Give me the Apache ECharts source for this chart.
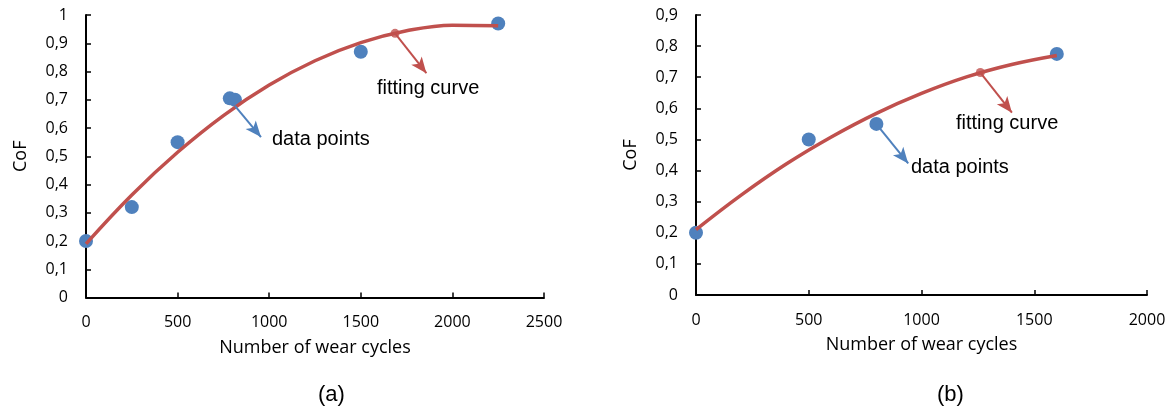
<!DOCTYPE html>
<html>
<head>
<meta charset="utf-8">
<script src="https://cdn.jsdelivr.net/npm/echarts@6/dist/echarts.min.js"></script>
<style>html,body{margin:0;padding:0;background:#fff;}#c{width:1171px;height:412px;}</style>
</head>
<body>
<div id="c"></div>
<script>
// ----- Data -----
// Panel (a)
var aPointsX = [0, 250, 500, 785, 813, 1500, 2250];
var aPointsY = [0.20, 0.32, 0.55, 0.705, 0.70, 0.87, 0.97];
var aCurveX = [0, 250, 500, 750, 1000, 1250, 1500, 1750, 2000, 2250];
var aCurveY = [0.19, 0.363, 0.514, 0.644, 0.752, 0.838, 0.902, 0.944, 0.964, 0.962];
var aCurveMarker = [1687, 0.935];
var aDataArrow = [[813, 0.678], [955, 0.568]];
var aFitArrow = [[1687, 0.935], [1858, 0.794]];
// Panel (b)
var bPointsX = [0, 500, 800, 1600];
var bPointsY = [0.20, 0.50, 0.55, 0.775];
var bCurveX = [0, 200, 400, 600, 800, 1000, 1200, 1400, 1600];
var bCurveY = [0.21, 0.321, 0.421, 0.508, 0.584, 0.648, 0.701, 0.741, 0.770];
var bCurveMarker = [1261, 0.715];
var bDataArrow = [[800, 0.549], [941, 0.423]];
var bFitArrow = [[1261, 0.715], [1401, 0.586]];
// Axis settings
var aXMax = 2500, bXMax = 2000, xInterval = 500;
var aYMax = 1, bYMax = 0.9, yInterval = 0.1;
var xTitle = 'Number of wear cycles';
var yTitle = 'CoF';
var panelLabels = ['(a)', '(b)'];
var annoData = 'data points', annoFit = 'fitting curve';

function zip(xs, ys) { return xs.map(function (x, i) { return [x, ys[i]]; }); }

var BLUE = '#4F81BD', RED = '#C0504D';
var tickFont = { fontFamily: 'Open Sans', fontSize: 16, color: '#000' };

function xAxis(gi, max) {
  return {
    type: 'value', gridIndex: gi, min: 0, max: max, interval: xInterval,
    axisLine: { show: true, lineStyle: { color: '#000', width: 2 } },
    axisTick: { show: true, inside: true, length: 5, lineStyle: { color: '#000', width: 1.5 } },
    axisLabel: Object.assign({ margin: 17, formatter: function (v) { return String(v); } }, tickFont),
    splitLine: { show: false },
    name: xTitle, nameLocation: 'middle', nameGap: 41,
    nameTextStyle: { fontFamily: 'Open Sans', fontSize: 18, color: '#000' }
  };
}
function yAxis(gi, max) {
  return {
    type: 'value', gridIndex: gi, min: 0, max: max, interval: yInterval,
    axisLine: { show: true, lineStyle: { color: '#000', width: 2 } },
    axisTick: { show: true, inside: true, length: 5, lineStyle: { color: '#000', width: 1.5 } },
    axisLabel: Object.assign({
      margin: 18,
      formatter: function (v) { return String(+v.toFixed(1)).replace('.', ','); }
    }, tickFont),
    splitLine: { show: false },
    name: yTitle, nameLocation: 'middle', nameGap: 56,
    nameTextStyle: { fontFamily: 'Open Sans', fontSize: 18, color: '#000' }
  };
}
function arrowLine(arr, color) {
  return {
    silent: true, animation: false,
    symbol: ['none', 'arrow'], symbolSize: 14,
    lineStyle: { color: color, width: 2, type: 'solid', opacity: 1 },
    itemStyle: { color: color },
    emphasis: { disabled: true },
    label: { show: false },
    data: [[
      { coord: arr[0], symbol: 'none' },
      { coord: arr[1], symbol: 'arrow', symbolSize: [10, 16] }
    ]]
  };
}
function panelSeries(gi, pts, curve, marker, dataArrow, fitArrow) {
  return [
    {
      type: 'line', xAxisIndex: gi, yAxisIndex: gi, data: curve, smooth: 0.4,
      showSymbol: false, lineStyle: { color: RED, width: 3.5 }, itemStyle: { color: RED }, z: 2,
      markLine: arrowLine(fitArrow, RED)
    },
    {
      type: 'scatter', xAxisIndex: gi, yAxisIndex: gi, data: pts, symbolSize: 14,
      itemStyle: { color: BLUE, opacity: 1 }, z: 1,
      markLine: arrowLine(dataArrow, BLUE)
    },
    {
      type: 'scatter', xAxisIndex: gi, yAxisIndex: gi, data: [marker], symbolSize: 9,
      itemStyle: { color: RED }, z: 3
    }
  ];
}

var chart = echarts.init(document.getElementById('c'), null, { renderer: 'canvas' });
var annoStyle = { fontFamily: 'Liberation Sans', fontSize: 20, fill: '#000' };
chart.setOption({
  animation: false,
  backgroundColor: '#fff',
  grid: [
    { left: 86, top: 15, width: 458, height: 282.5 },
    { left: 696, top: 15, width: 451, height: 280 }
  ],
  xAxis: [xAxis(0, aXMax), xAxis(1, bXMax)],
  yAxis: [yAxis(0, aYMax), yAxis(1, bYMax)],
  series: [].concat(
    panelSeries(0, zip(aPointsX, aPointsY), zip(aCurveX, aCurveY), aCurveMarker, aDataArrow, aFitArrow),
    panelSeries(1, zip(bPointsX, bPointsY), zip(bCurveX, bCurveY), bCurveMarker, bDataArrow, bFitArrow)
  ),
  graphic: [
    { type: 'text', left: 272, top: 129, style: Object.assign({ text: annoData }, annoStyle) },
    { type: 'text', left: 377, top: 78, style: Object.assign({ text: annoFit }, annoStyle) },
    { type: 'text', left: 911, top: 157, style: Object.assign({ text: annoData }, annoStyle) },
    { type: 'text', left: 956, top: 113, style: Object.assign({ text: annoFit }, annoStyle) },
    { type: 'text', left: 318, top: 384, style: { text: panelLabels[0], fontFamily: 'Liberation Sans', fontSize: 22, fill: '#000' } },
    { type: 'text', left: 937, top: 384, style: { text: panelLabels[1], fontFamily: 'Liberation Sans', fontSize: 22, fill: '#000' } }
  ]
});
</script>
</body>
</html>
